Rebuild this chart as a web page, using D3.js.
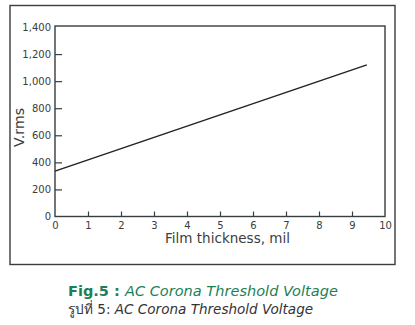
<!DOCTYPE html>
<html>
<head>
<meta charset="utf-8">
<script src="https://cdn.jsdelivr.net/npm/d3@7"></script>
<style>
  html, body { margin: 0; padding: 0; background: #fff; }
  svg { display: block; }
</style>
</head>
<body>
<svg id="chart" width="415" height="325"></svg>
<script>
// Corona threshold voltage vs. film thickness
const thickness = [0, 9.45];          // mil
const voltage   = [335, 1120];        // V rms
const xTicks = [0, 1, 2, 3, 4, 5, 6, 7, 8, 9, 10];
const yTicks = [0, 200, 400, 600, 800, 1000, 1200, 1400];

const svg = d3.select("#chart");
const ink = "#3a3d3d";
const font = "'DejaVu Sans', 'Noto Sans', sans-serif";

const plot = { left: 55, right: 385, top: 26, bottom: 216.5 };

// shrink or grow a text's font so it spans the given width
function fitWidth(sel, width) {
  const node = sel.node();
  const fs = parseFloat(sel.attr("font-size"));
  const w = node.getComputedTextLength();
  sel.attr("font-size", (fs * width / w).toFixed(2));
}

// outer frame
svg.append("rect")
  .attr("x", 10).attr("y", 5.5)
  .attr("width", 385).attr("height", 259)
  .attr("fill", "none").attr("stroke", ink).attr("stroke-width", 1.4);

const x = d3.scaleLinear().domain([0, 10]).range([plot.left, plot.right]);
const y = d3.scaleLinear().domain([0, 1400]).range([plot.bottom, plot.top + 1]);

// plot frame
svg.append("rect")
  .attr("x", plot.left).attr("y", plot.top)
  .attr("width", plot.right - plot.left).attr("height", plot.bottom - plot.top)
  .attr("fill", "none").attr("stroke", ink).attr("stroke-width", 1.4);

// axes with inward ticks
const xAxis = d3.axisBottom(x).tickValues(xTicks).tickSizeInner(-5).tickSizeOuter(0)
  .tickFormat(d3.format("d"));
const gx = svg.append("g").attr("transform", `translate(0,${plot.bottom})`).call(xAxis);

const yAxis = d3.axisLeft(y).tickValues(yTicks).tickSizeInner(-7).tickSizeOuter(0)
  .tickPadding(4).tickFormat(d3.format(","));
const gy = svg.append("g").attr("transform", `translate(${plot.left},0)`).call(yAxis);

[gx, gy].forEach(g => {
  g.select(".domain").remove();
  g.selectAll(".tick line").attr("stroke", ink).attr("stroke-width", 1.2);
  g.selectAll(".tick text").attr("fill", ink).attr("font-size", 10)
    .attr("font-family", font);
});
// skip tick marks that coincide with the frame
gx.selectAll(".tick").filter(d => d === 0 || d === 10).select("line").remove();
gy.selectAll(".tick").filter(d => d === 0 || d === 1400).select("line").remove();
gx.selectAll(".tick text").attr("y", 8.5).attr("dy", "0.35em");

// data line
const line = d3.line().x((d, i) => x(thickness[i])).y(d => y(d));
svg.append("path")
  .datum(voltage)
  .attr("d", line)
  .attr("fill", "none").attr("stroke", "#222").attr("stroke-width", 1.5);

// axis titles
const yTitle = svg.append("text")
  .attr("transform", "translate(24,127.5) rotate(-90)")
  .attr("font-family", font).attr("font-size", 13).attr("fill", ink)
  .attr("text-anchor", "middle")
  .text("V.rms");
fitWidth(yTitle, 39);

const xTitle = svg.append("text")
  .attr("x", 227.5).attr("y", 243)
  .attr("font-family", font).attr("font-size", 12.5).attr("fill", ink)
  .attr("text-anchor", "middle")
  .text("Film thickness, mil");
fitWidth(xTitle, 125);

// captions
const cap1 = svg.append("text")
  .attr("x", 68).attr("y", 295.5)
  .attr("font-family", font).attr("font-size", 14).attr("fill", "#1d7f56");
cap1.append("tspan").attr("font-weight", 600).text("Fig.5 : ");
cap1.append("tspan").attr("font-style", "italic").text("AC Corona Threshold Voltage");
fitWidth(cap1, 270);

const cap2 = svg.append("text")
  .attr("x", 68).attr("y", 314)
  .attr("font-family", font).attr("font-size", 12).attr("fill", "#333");
cap2.append("tspan").text("รูปที่ 5: ");
cap2.append("tspan").attr("font-style", "italic").text("AC Corona Threshold Voltage");
fitWidth(cap2, 245);
</script>
</body>
</html>
